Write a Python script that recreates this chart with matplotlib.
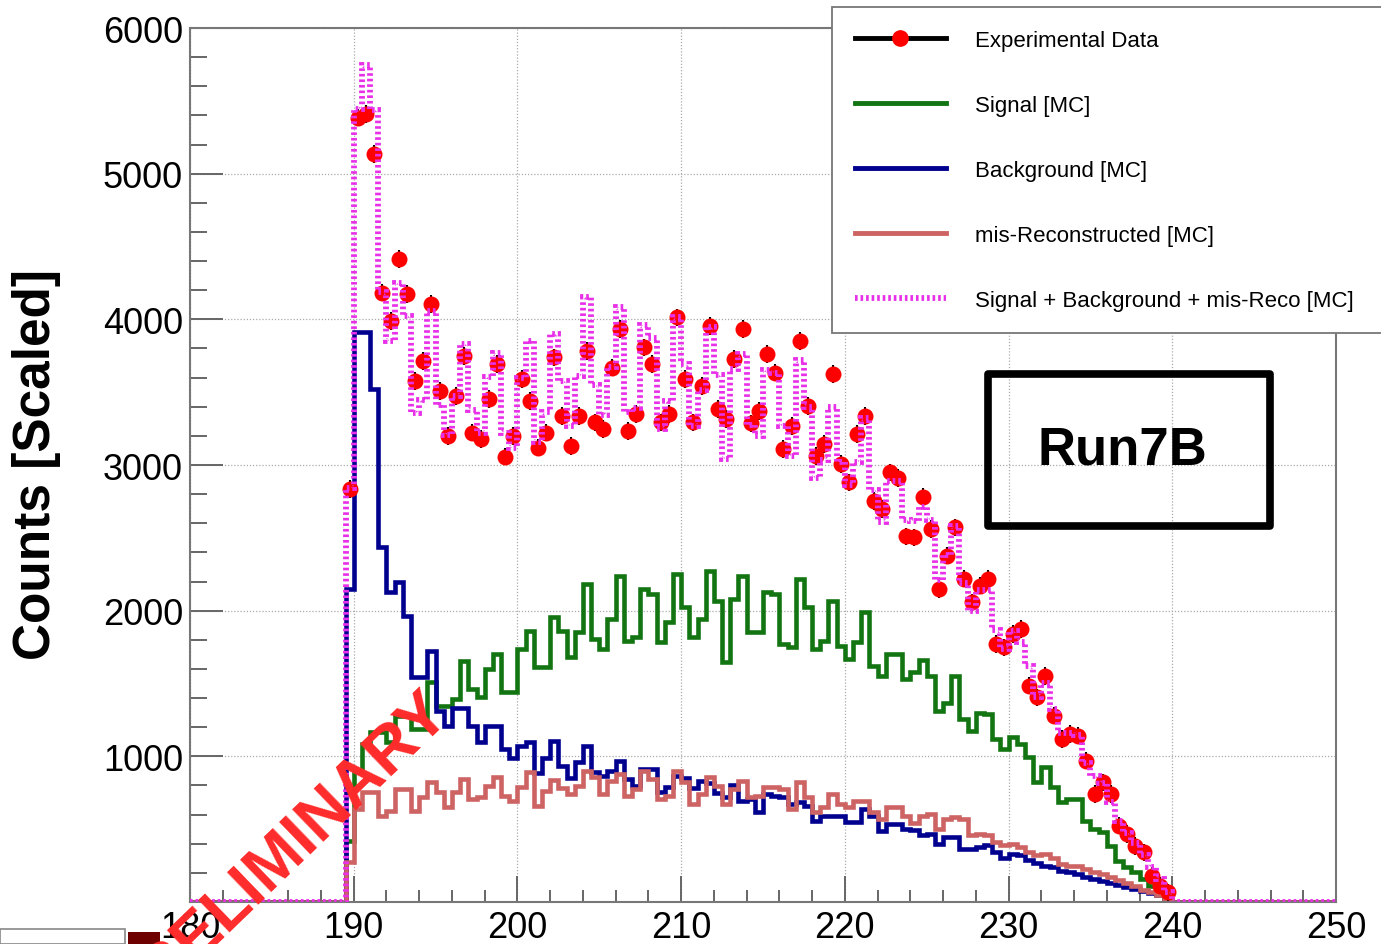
import numpy as np
import matplotlib
matplotlib.use("Agg")
from matplotlib import pyplot as plt
from matplotlib.lines import Line2D
from matplotlib.patches import Rectangle
from matplotlib.ticker import MultipleLocator

plt.rcParams['font.family'] = ['Liberation Sans', 'DejaVu Sans']

# Histogram binning: 0.5 wide bins, filled range 189.5 - 240
x_lo, x_hi, bin_w = 180, 250, 0.5
fill_lo = 189.5

# Signal [MC]
signal = [420, 890, 1084, 1165, 1165, 1096, 1279, 1279, 1187, 1187,
          1508, 1347, 1347, 1393, 1656, 1462, 1405, 1599, 1702, 1439,
          1439, 1736, 1862, 1611, 1611, 1954, 1862, 1680, 1851, 2182,
          1805, 1736, 1942, 2239, 1793, 1817, 2148, 2114, 1782, 1920,
          2251, 2022, 1817, 1942, 2274, 2068, 1645, 2080, 2239, 1851,
          1851, 2125, 2114, 1771, 1748, 2217, 2022, 1736, 1793, 2068,
          1759, 1668, 1782, 1988, 1622, 1553, 1702, 1702, 1530, 1580,
          1660, 1553, 1313, 1365, 1553, 1256, 1176, 1300, 1290, 1119,
          1050, 1130, 1084, 993, 821, 924, 787, 684, 707, 707,
          558, 501, 478, 386, 283, 238, 204, 158, 112, 70,
          30]

# Background [MC]
background = [2150, 3912, 3912, 3521, 2434, 2125, 2194, 1965, 1542, 1542,
              1725, 1313, 1210, 1330, 1330, 1210, 1096, 1210, 1210, 1050,
              990, 1073, 1096, 885, 990, 1107, 935, 850, 960, 1073,
              890, 867, 901, 970, 844, 798, 913, 913, 755, 789,
              867, 850, 780, 830, 820, 750, 720, 800, 695, 707,
              616, 741, 730, 718, 673, 684, 661, 558, 592, 592,
              592, 547, 547, 638, 592, 489, 535, 535, 501, 495,
              460, 467, 398, 444, 444, 364, 362, 378, 390, 340,
              300, 330, 320, 285, 265, 250, 238, 215, 204, 190,
              170, 158, 146, 130, 120, 105, 90, 78, 60, 45,
              20]

# mis-Reconstructed [MC]
misreco = [272, 640, 753, 753, 592, 627, 776, 776, 627, 718,
           821, 753, 650, 753, 844, 707, 718, 798, 856, 730,
           690, 790, 895, 661, 765, 835, 780, 740, 798, 901,
           856, 741, 833, 878, 730, 776, 901, 844, 707, 730,
           901, 821, 673, 741, 856, 798, 673, 776, 830, 718,
           730, 787, 787, 776, 638, 821, 718, 616, 650, 741,
           673, 650, 695, 695, 616, 570, 650, 650, 592, 540,
           592, 604, 501, 570, 581, 570, 458, 467, 462, 410,
           390, 400, 380, 340, 320, 330, 300, 260, 250, 250,
           226, 204, 190, 170, 150, 130, 110, 85, 70, 45,
           20]

# Experimental data
data = [2834, 5385, 5408, 5134, 4184, 3990, 4413, 4173, 3578, 3715,
        4104, 3509, 3200, 3475, 3749, 3223, 3177, 3452, 3692, 3058,
        3200, 3589, 3441, 3120, 3223, 3738, 3338, 3132, 3338, 3784,
        3292, 3246, 3669, 3932, 3235, 3349, 3807, 3692, 3292, 3349,
        4013, 3589, 3292, 3543, 3955, 3383, 3315, 3727, 3932, 3286,
        3372, 3761, 3635, 3109, 3269, 3852, 3406, 3063, 3143, 3624,
        3006, 2880, 3212, 3338, 2754, 2697, 2949, 2910, 2510, 2503,
        2783, 2560, 2148, 2377, 2572, 2220, 2057, 2171, 2217, 1771,
        1748, 1839, 1874, 1485, 1405, 1553, 1279, 1119, 1153, 1142,
        970, 741, 821, 741, 524, 467, 386, 341, 181, 112,
        66]
data_err = 60

edges = np.arange(x_lo, x_hi + bin_w / 2, bin_w)
n_before = int(round((fill_lo - x_lo) / bin_w))
n_after = len(edges) - 1 - n_before - len(signal)


def padded(vals):
    return np.concatenate([np.zeros(n_before), np.asarray(vals, float), np.zeros(n_after)])


total = np.asarray(signal) + np.asarray(background) + np.asarray(misreco)
centers = fill_lo + bin_w / 2 + bin_w * np.arange(len(data))

c_sig = '#127512'
c_bkg = '#00008f'
c_mis = '#cd6363'
c_sum = '#e830e8'
sum_dash = (0, (0.45, 0.5))

fig = plt.figure(figsize=(13.81, 9.45), dpi=100)
ax = fig.add_axes([190 / 1381, 1 - 903 / 945, 1146 / 1381, 874 / 945])

ax.stairs(padded(signal), edges, color=c_sig, lw=3.3, baseline=None, zorder=2)
ax.stairs(padded(background), edges, color=c_bkg, lw=3.3, baseline=None, zorder=2.1)
ax.stairs(padded(misreco), edges, color=c_mis, lw=3.3, baseline=None, zorder=2.2)
ax.errorbar(centers, data, yerr=data_err, fmt='o', color='red', ms=11.5, mew=0,
            ecolor='black', elinewidth=1.5, capsize=0, zorder=3)
ax.stairs(padded(total), edges, color=c_sum, lw=4.2, baseline=None,
          linestyle=sum_dash, zorder=4)

ax.set_xlim(x_lo, x_hi)
ax.set_ylim(0, 6000)
ax.xaxis.set_major_locator(MultipleLocator(10))
ax.xaxis.set_minor_locator(MultipleLocator(2))
ax.set_yticks(range(0, 7000, 1000))
ax.set_yticklabels([''] + [str(v) for v in range(1000, 7000, 1000)])
ax.yaxis.set_minor_locator(MultipleLocator(200))
ax.tick_params(which='both', direction='in', color='#666666', width=1.4,
               labelsize=26, top=False, right=False)
ax.tick_params(axis='y', which='major', length=24, pad=5)
ax.tick_params(axis='y', which='minor', length=12)
ax.tick_params(axis='x', which='major', length=19, pad=6)
ax.tick_params(axis='x', which='minor', length=9)
ax.grid(True, which='major', color='#aaaaaa', linestyle=(0, (1, 1.5)), lw=0.9)
ax.set_axisbelow(True)
for s in ax.spines.values():
    s.set_color('#777777')
    s.set_linewidth(1.5)

fig.text(37 / 1381, 1 - 465 / 945, 'Counts [Scaled]', rotation=90, fontsize=37,
         fontweight='bold', ha='center', va='center')

# Run label box
ax.add_patch(Rectangle((0.6963, 0.4302), 0.2461, 0.1739, transform=ax.transAxes,
                       fill=False, ec='black', lw=5.5, joinstyle='round', zorder=5))
ax.text(0.8133, 0.5183, 'Run7B', transform=ax.transAxes, fontsize=38,
        fontweight='bold', ha='center', va='center', zorder=5)

handles = [
    Line2D([], [], color='black', lw=3.5, marker='o', ms=11, mfc='red', mec='red'),
    Line2D([], [], color=c_sig, lw=3.5),
    Line2D([], [], color=c_bkg, lw=3.5),
    Line2D([], [], color=c_mis, lw=3.5),
    Line2D([], [], color=c_sum, lw=4.2, linestyle=sum_dash),
]
labels = ['Experimental Data', 'Signal [MC]', 'Background [MC]',
          'mis-Reconstructed [MC]', 'Signal + Background + mis-Reco [MC]']
leg = ax.legend(handles, labels, loc='upper left', mode='expand',
                bbox_to_anchor=(832 / 1381, 0.4, 0.45, 1 - 8 / 945 - 0.4),
                bbox_transform=fig.transFigure, borderaxespad=0, fontsize=16,
                handlelength=4.1, handletextpad=1.3, labelspacing=1.98,
                borderpad=1.02, fancybox=False, framealpha=1)
leg.get_frame().set_edgecolor('#777777')
leg.get_frame().set_linewidth(1.3)
leg.set_zorder(6)

# slide footer pieces
fig.patches.append(Rectangle((0, 0), 125 / 1381, 15 / 945, transform=fig.transFigure,
                             fc='white', ec='#888888', lw=1.2, zorder=2))
fig.patches.append(Rectangle((128 / 1381, 0), 32 / 1381, 12 / 945, transform=fig.transFigure,
                             fc='#6e0000', ec='none', zorder=2))

fig.text(279 / 1381, 1 - 857 / 945, 'PRELIMINARY', rotation=44, rotation_mode='anchor',
         fontsize=47, fontweight='bold', color='#ff2b2b', ha='center', va='center',
         zorder=10)

fig.savefig('out.png', dpi=100)
